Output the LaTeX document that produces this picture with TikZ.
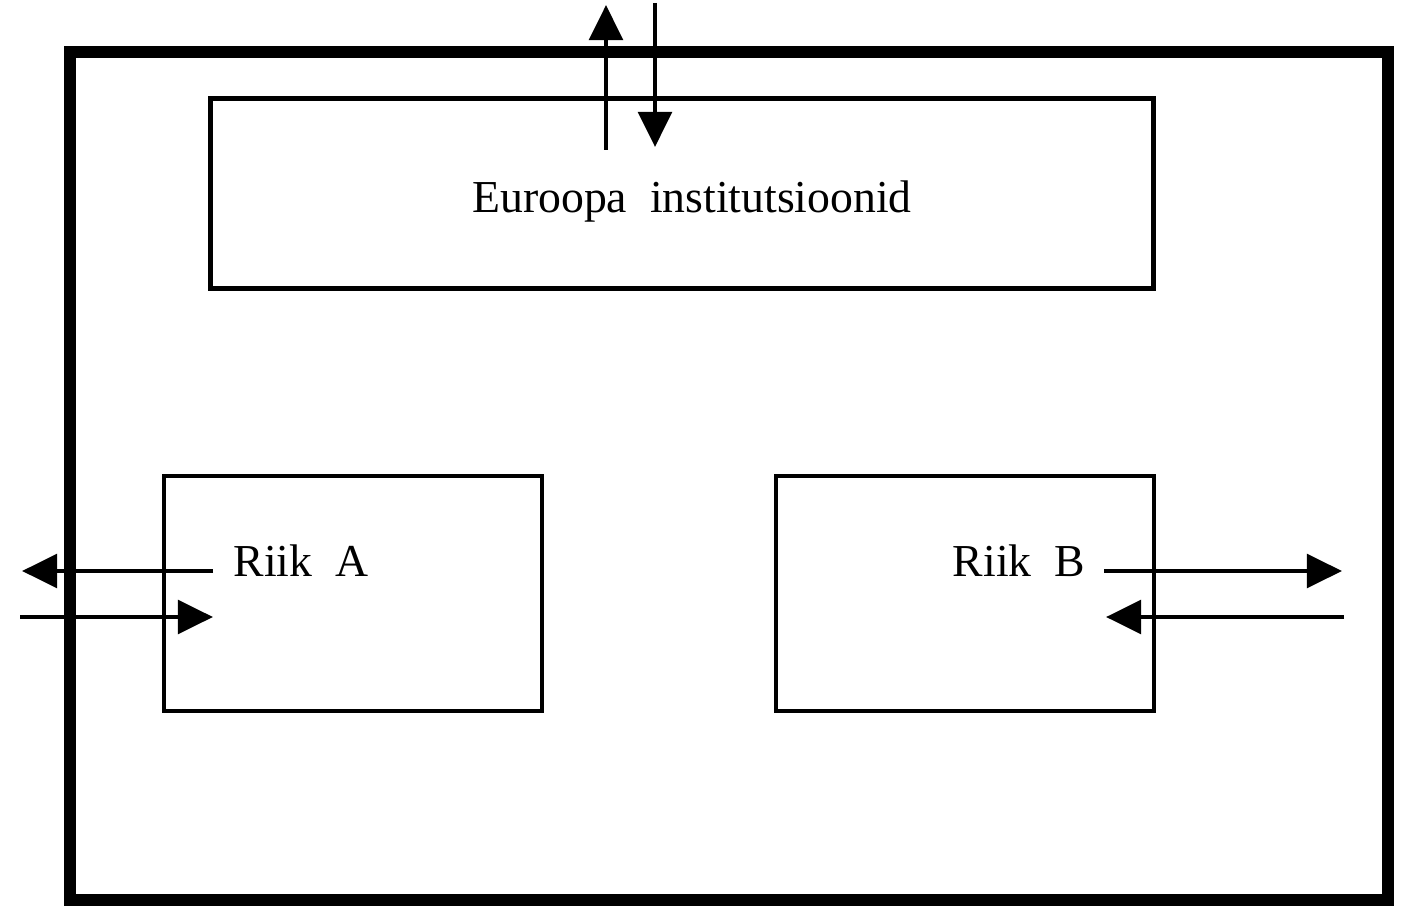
\documentclass[tikz,border=0pt]{standalone}
\usepackage{fontspec}
\setmainfont{Liberation Serif}[WordSpace=2]
\usetikzlibrary{positioning,arrows.meta}

\begin{document}
\begin{tikzpicture}[
  x=0.01cm, y=-0.01cm,
  font=\fontsize{13pt}{15pt}\selectfont,
  frame/.style = {draw=black, line width=3.4pt},
  box/.style = {
    rectangle, draw=black, line width=1.3pt, inner sep=0pt,
  },
  label/.style = {inner sep=0pt, anchor=base},
  arrow/.style = {-{Triangle[length=10pt,width=9.5pt]}, line width=1.4pt},
]
  \useasboundingbox (0,0) rectangle (1422,913);

  % outer frame
  \draw[frame] (70,52) rectangle (1388,900);

  % boxes
  \node[box, minimum width=9.42cm, minimum height=1.9cm] (eu) at (682,193.5) {};
  \node[box, minimum width=3.78cm, minimum height=2.35cm] (riika) at (353,593.5) {};
  \node[box, minimum width=3.78cm, minimum height=2.35cm] (riikb) at (965,593.5) {};

  \node[label] (eutext) at (692,213) {Euroopa institutsioonid};
  \node[label] (atext) at (301,577) {Riik A};
  \node[label] (btext) at (1019,577) {Riik B};

  % arrow ends
  \coordinate (euout1) at (606,150);
  \coordinate (euout2) at (606,5);
  \coordinate (euin1) at (655,3);
  \coordinate (euin2) at (655,147);
  \coordinate (aout1) at (213,571);
  \coordinate (aout2) at (22,571);
  \coordinate (ain1) at (20,617);
  \coordinate (ain2) at (213,617);
  \coordinate (bout1) at (1104,571);
  \coordinate (bout2) at (1342,571);
  \coordinate (bin1) at (1344,617);
  \coordinate (bin2) at (1106,617);

  \draw[arrow] (euout1) -- (euout2);
  \draw[arrow] (euin1) -- (euin2);
  \draw[arrow] (aout1) -- (aout2);
  \draw[arrow] (ain1) -- (ain2);
  \draw[arrow] (bout1) -- (bout2);
  \draw[arrow] (bin1) -- (bin2);
\end{tikzpicture}
\end{document}
